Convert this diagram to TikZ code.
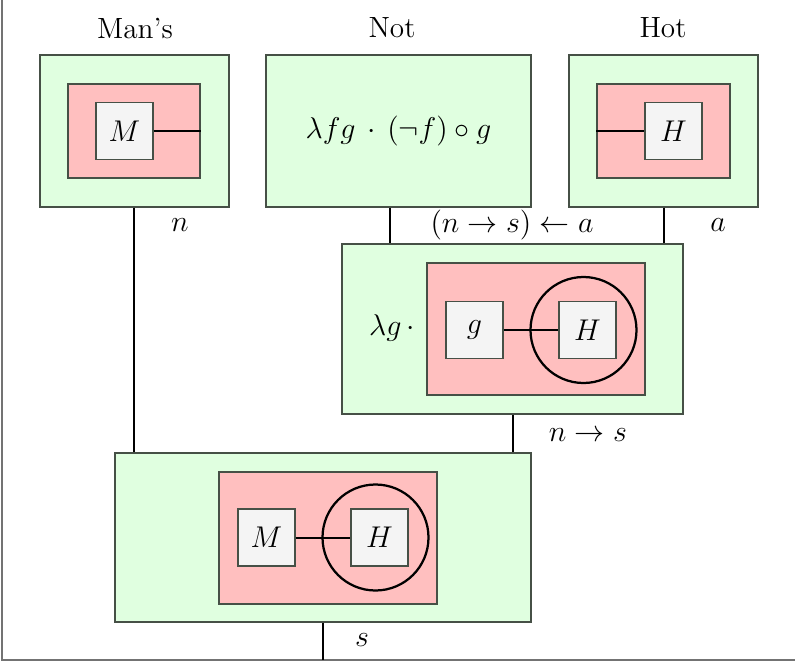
\documentclass[tikz,border=0pt]{standalone}
\definecolor{greenbg}{RGB}{224,255,224}
\definecolor{redbg}{RGB}{255,191,191}
\definecolor{whitebg}{RGB}{244,244,244}
\definecolor{edge}{RGB}{70,80,70}
\begin{document}
\begin{tikzpicture}[x=0.4pt,y=-0.4pt,
  every node/.style={font=\fontsize{11.7pt}{14pt}\selectfont},
  gbox/.style={draw=edge, fill=greenbg, inner sep=0pt, line width=0.5pt, rectangle},
  rbox/.style={draw=edge, fill=redbg, inner sep=0pt, line width=0.5pt, rectangle},
  wbox/.style={draw=edge, fill=whitebg, inner sep=0pt, line width=0.5pt, rectangle,
    minimum width={57*0.4pt}, minimum height={57*0.4pt}},
  ring/.style={draw=black, circle, line width=0.9pt, inner sep=0pt, minimum size={106*0.4pt}},
  wire/.style={draw=black, line width=0.8pt},
  frameline/.style={draw=black!55, line width=0.8pt},
  lbl/.style={inner sep=0pt}
]
\useasboundingbox (0,0) rectangle (795,662);
\draw[frameline] (2,0) -- (2,660) -- (795,660);

% Man's
\node[lbl] (lmans) at (135,28) {Man's};
\node[gbox, minimum width={189*0.4pt}, minimum height={152*0.4pt}] (mansG) at (134.5,131) {};
\node[rbox, minimum width={132*0.4pt}, minimum height={94*0.4pt}] (mansR) at (134,131) {};
\node[wbox] (mansM) at (124.5,131) {$M$};
\draw[wire] (mansM.east) -- (mansR.east |- mansM.east);

% Not
\node[lbl] (lnot) at (392,28) {Not};
\node[gbox, minimum width={265*0.4pt}, minimum height={152*0.4pt}] (notG) at (398.5,131) {$\lambda fg\,\cdot\,(\neg f)\circ g$};

% Hot
\node[lbl] (lhot) at (663,28) {Hot};
\node[gbox, minimum width={189*0.4pt}, minimum height={152*0.4pt}] (hotG) at (663.5,131) {};
\node[rbox, minimum width={133*0.4pt}, minimum height={94*0.4pt}] (hotR) at (663.5,131) {};
\node[wbox] (hotH) at (673.5,131) {$H$};
\draw[wire] (hotR.west |- hotH.west) -- (hotH.west);

% middle
\node[gbox, minimum width={341*0.4pt}, minimum height={170*0.4pt}] (midG) at (512.5,329) {};
\node[lbl] (midlam) at (392,328) {$\lambda g\,\cdot$};
\node[rbox, minimum width={218*0.4pt}, minimum height={132*0.4pt}] (midR) at (536,329) {};
\node[ring] (midC) at (583.5,330) {};
\node[wbox] (midg) at (474.5,330) {$g$};
\node[wbox] (midH) at (587.5,330) {$H$};
\draw[wire] (midg.east) -- (midH.west);

% bottom
\node[gbox, minimum width={416*0.4pt}, minimum height={169*0.4pt}] (botG) at (323,537.5) {};
\node[rbox, minimum width={218*0.4pt}, minimum height={132*0.4pt}] (botR) at (328,538) {};
\node[ring] (botC) at (375.5,537.5) {};
\node[wbox] (botM) at (266.5,537.5) {$M$};
\node[wbox] (botH) at (379.5,537.5) {$H$};
\draw[wire] (botM.east) -- (botH.west);

% wires
\coordinate (sEnd) at (323,660);
\draw[wire] ([xshift=-0.2pt]mansG.south) -- ([xshift=-0.2pt]mansG.south |- botG.north);
\draw[wire] ([xshift={-8.5*0.4pt}]notG.south) -- ([xshift={-8.5*0.4pt}]notG.south |- midG.north);
\draw[wire] (hotG.south) -- (hotG.south |- midG.north);
\draw[wire] (midG.south) -- (midG.south |- botG.north);
\draw[wire] (botG.south) -- (sEnd);

% type labels
\node[lbl] (tn) at (180,225) {$n$};
\node[lbl] (tnsa) at (512,225) {$(n\rightarrow s)\leftarrow a$};
\node[lbl] (ta) at (718,225) {$a$};
\node[lbl] (tns) at (588,435) {$n\rightarrow s$};
\node[lbl] (ts) at (362,640) {$s$};
\end{tikzpicture}
\end{document}
